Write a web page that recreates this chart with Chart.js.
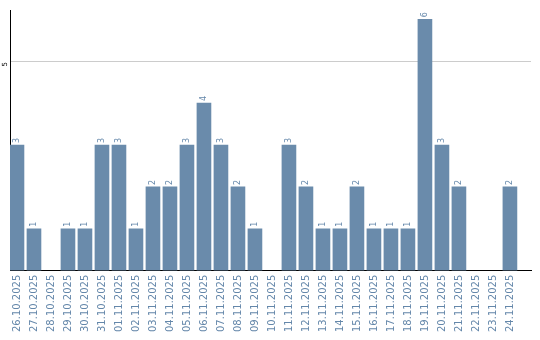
<!DOCTYPE html>
<html>
<head>
<meta charset="utf-8">
<script src="https://cdn.jsdelivr.net/npm/chart.js@4"></script>
<style>
  body { margin: 0; background: #fff; }
  #chart { display: block; }
</style>
</head>
<body>
<canvas id="chart" width="540" height="340"></canvas>
<script>
const categories = ['26.10.2025','27.10.2025','28.10.2025','29.10.2025','30.10.2025','31.10.2025',
  '01.11.2025','02.11.2025','03.11.2025','04.11.2025','05.11.2025','06.11.2025','07.11.2025',
  '08.11.2025','09.11.2025','10.11.2025','11.11.2025','12.11.2025','13.11.2025','14.11.2025',
  '15.11.2025','16.11.2025','17.11.2025','18.11.2025','19.11.2025','20.11.2025','21.11.2025',
  '22.11.2025','23.11.2025','24.11.2025'];
const counts = [3,1,0,1,1,3,3,1,2,2,3,4,3,2,1,0,3,2,1,1,2,1,1,1,6,3,2,0,0,2];
const yTicks = [5];

const barColor = '#6a8bab';
const textColor = '#6487aa';

// value labels over the bars, turned upright
const valueLabels = {
  id: 'valueLabels',
  afterDatasetsDraw(chart) {
    let ctx = chart.ctx;
    let meta = chart.getDatasetMeta(0);
    ctx.save();
    ctx.font = '8px "DejaVu Sans"';
    ctx.fillStyle = textColor;
    ctx.textAlign = 'left';
    ctx.textBaseline = 'middle';
    meta.data.forEach((bar, i) => {
      if (!counts[i]) return;
      ctx.save();
      ctx.translate(bar.x, bar.y - 2);
      ctx.rotate(-Math.PI / 2);
      ctx.fillText(String(counts[i]), 0, 0);
      ctx.restore();
    });
    ctx.restore();
  }
};

// y tick labels, drawn sideways
const yLabels = {
  id: 'yLabels',
  afterDraw(chart) {
    let ctx = chart.ctx;
    let y = chart.scales.y;
    ctx.save();
    ctx.font = '7px "DejaVu Sans"';
    ctx.fillStyle = '#000';
    ctx.textAlign = 'right';
    ctx.textBaseline = 'middle';
    yTicks.forEach((t) => {
      ctx.save();
      ctx.translate(5, y.getPixelForValue(t) + 1);
      ctx.rotate(-Math.PI / 2);
      ctx.fillText(String(t), 0, 0);
      ctx.restore();
    });
    ctx.restore();
  }
};

new Chart(document.getElementById('chart'), {
  type: 'bar',
  data: {
    datasets: [{
      // empty days get no bar at all
      data: counts.map((v, i) => ({ x: i, y: v || null })),
      backgroundColor: barColor,
      barThickness: 14
    }]
  },
  options: {
    responsive: false,
    animation: false,
    layout: { padding: { left: 10, top: 10, right: 9, bottom: 4 } },
    plugins: { legend: { display: false }, tooltip: { enabled: false } },
    scales: {
      x: {
        type: 'linear',
        min: -0.41,
        max: 30.24,
        offset: false,
        grid: { display: false, drawTicks: false },
        border: { color: '#000', width: 1 },
        afterBuildTicks: (s) => { s.ticks = categories.map((c, i) => ({ value: i })); },
        ticks: {
          autoSkip: false,
          minRotation: 90,
          maxRotation: 90,
          padding: 4,
          color: textColor,
          font: { family: 'DejaVu Sans', size: 10 },
          callback: (v) => categories[v] || ''
        }
      },
      y: {
        min: 0,
        max: 6.22,
        ticks: { display: false, stepSize: 5 },
        grid: {
          drawTicks: false,
          color: (c) => (c.tick && yTicks.includes(c.tick.value) ? '#cccccc' : 'rgba(0,0,0,0)')
        },
        border: { color: '#000', width: 1 }
      }
    }
  },
  plugins: [valueLabels, yLabels]
});
</script>
</body>
</html>
